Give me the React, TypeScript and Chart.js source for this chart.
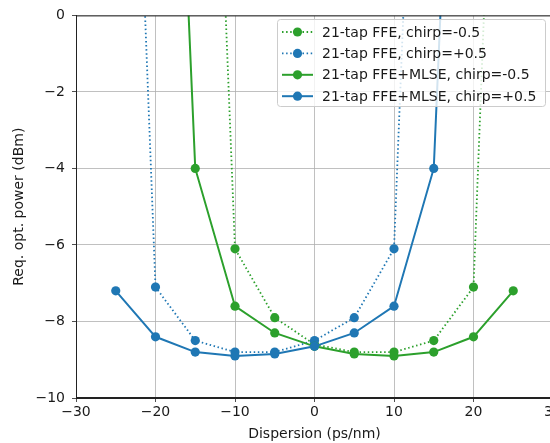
import React, { useEffect, useRef } from "react";
import { Chart, registerables } from "chart.js";

Chart.register(...registerables);

// Dispersion values (ps/nm) at which the required optical power was measured
const dispersion = [-25, -20, -15, -10, -5, 0, 5, 10, 15, 20, 25];

// Required optical power (dBm); 20 marks an unreachable (off-scale) point
const ffeChirpNeg = [null, null, 20, -6.1, -7.9, -8.6, -8.8, -8.8, -8.5, -7.1, 20];
const ffeChirpPos = [20, -7.1, -8.5, -8.8, -8.8, -8.5, -7.9, -6.1, 20, null, null];
const mlseChirpNeg = [null, 20, -4.0, -7.6, -8.3, -8.65, -8.85, -8.9, -8.8, -8.4, -7.2];
const mlseChirpPos = [-7.2, -8.4, -8.8, -8.9, -8.85, -8.65, -8.3, -7.6, -4.0, 20, null];

const seriesLabels = [
  "21-tap FFE, chirp=-0.5",
  "21-tap FFE, chirp=+0.5",
  "21-tap FFE+MLSE, chirp=-0.5",
  "21-tap FFE+MLSE, chirp=+0.5",
];

const xTicks = [-30, -20, -10, 0, 10, 20, 30];
const yTicks = [-10, -8, -6, -4, -2, 0];

const GREEN = "#2ca02c";
const BLUE = "#1f77b4";
const FONT = "'DejaVu Sans', sans-serif";
const TEXT = "#1a1a1a";
const DOTTED = [1.5, 2.6];

const toPoints = (vals: (number | null)[]) =>
  dispersion
    .map((x, i) => ({ x, y: vals[i] }))
    .filter((p) => p.y !== null) as { x: number; y: number }[];

const minus = (v: number) => (v < 0 ? "\u2212" + Math.abs(v) : String(v));

// Spines on all four sides of the plotting area
const framePlugin = {
  id: "frame",
  afterDraw(chart: any) {
    const { ctx, chartArea: a } = chart;
    ctx.save();
    ctx.strokeStyle = "#222";
    ctx.lineWidth = 1;
    ctx.strokeRect(a.left + 0.5, a.top + 0.5, a.right - a.left - 1, a.bottom - a.top - 1);
    ctx.restore();
  },
};

// Legend box with line + marker handles, drawn in the upper right of the plot
const legendPlugin = {
  id: "lineLegend",
  afterDraw(chart: any) {
    const { ctx } = chart;
    const boxX = 277;
    const boxY = 19;
    const boxW = 268;
    const boxH = 87;
    const rowH = 21.4;
    ctx.save();
    ctx.beginPath();
    ctx.roundRect(boxX + 0.5, boxY + 0.5, boxW, boxH, 3);
    ctx.fillStyle = "rgba(255,255,255,0.8)";
    ctx.fill();
    ctx.strokeStyle = "#cccccc";
    ctx.lineWidth = 1;
    ctx.stroke();
    chart.data.datasets.forEach((ds: any, i: number) => {
      const cy = boxY + 13 + i * rowH;
      ctx.beginPath();
      ctx.setLineDash(ds.borderDash || []);
      ctx.strokeStyle = ds.borderColor;
      ctx.lineWidth = ds.borderWidth;
      ctx.moveTo(282, cy);
      ctx.lineTo(313, cy);
      ctx.stroke();
      ctx.setLineDash([]);
      ctx.beginPath();
      ctx.arc(297.5, cy, 4.6, 0, Math.PI * 2);
      ctx.fillStyle = ds.pointBackgroundColor;
      ctx.fill();
      ctx.fillStyle = TEXT;
      ctx.font = `14px ${FONT}`;
      ctx.textBaseline = "middle";
      ctx.textAlign = "left";
      ctx.fillText(ds.label, 322, cy + 1);
    });
    ctx.restore();
  },
};

export default function App() {
  const canvasRef = useRef<HTMLCanvasElement | null>(null);

  useEffect(() => {
    if (!canvasRef.current) return;
    const mk = (i: number, vals: (number | null)[], color: string, dotted: boolean) => ({
      label: seriesLabels[i],
      data: toPoints(vals),
      borderColor: color,
      backgroundColor: color,
      pointBackgroundColor: color,
      pointBorderColor: color,
      pointBorderWidth: 0,
      pointRadius: 4.6,
      borderWidth: dotted ? 1.8 : 2,
      borderDash: dotted ? DOTTED : [],
      borderCapStyle: "butt" as const,
      tension: 0,
      order: 3 - i,
    });

    const chart = new Chart(canvasRef.current, {
      type: "line",
      data: {
        datasets: [
          mk(0, ffeChirpNeg, GREEN, true),
          mk(1, ffeChirpPos, BLUE, true),
          mk(2, mlseChirpNeg, GREEN, false),
          mk(3, mlseChirpPos, BLUE, false),
        ],
      },
      options: {
        animation: false,
        responsive: false,
        devicePixelRatio: 1,
        layout: { padding: { top: 13, right: 47, left: 0, bottom: 0 }, autoPadding: false },
        plugins: { legend: { display: false }, tooltip: { enabled: false } },
        scales: {
          x: {
            type: "linear",
            min: -30,
            max: 30,
            afterFit: (s: any) => {
              s.height = 45;
            },
            afterBuildTicks: (s: any) => {
              s.ticks = xTicks.map((v) => ({ value: v }));
            },
            ticks: {
              callback: (v: any) => minus(Number(v)),
              color: TEXT,
              font: { family: FONT, size: 14 },
              padding: 2,
              maxRotation: 0,
            },
            grid: { color: "#b0b0b0", lineWidth: 0.8, tickColor: "#222", tickLength: 4 },
            border: { display: true, color: "#222", width: 1 },
            title: {
              display: true,
              text: "Dispersion (ps/nm)",
              color: TEXT,
              font: { family: FONT, size: 14 },
              padding: { top: 0, bottom: 0 },
            },
          },
          y: {
            type: "linear",
            min: -10,
            max: 0,
            afterFit: (s: any) => {
              s.width = 76;
            },
            afterBuildTicks: (s: any) => {
              s.ticks = yTicks.map((v) => ({ value: v }));
            },
            ticks: {
              callback: (v: any) => minus(Number(v)),
              color: TEXT,
              font: { family: FONT, size: 14 },
              padding: 7,
            },
            grid: { color: "#b0b0b0", lineWidth: 0.8, tickColor: "#222", tickLength: 4 },
            border: { display: true, color: "#222", width: 1 },
            title: {
              display: true,
              text: "Req. opt. power (dBm)",
              color: TEXT,
              font: { family: FONT, size: 14 },
              padding: { top: 11, bottom: 0 },
            },
          },
        },
      },
      plugins: [framePlugin, legendPlugin],
    });
    return () => chart.destroy();
  }, []);

  return (
    <div
      style={{
        position: "fixed",
        left: 0,
        top: 0,
        width: 550,
        height: 443,
        overflow: "hidden",
        background: "#fff",
      }}
    >
      <canvas ref={canvasRef} width={600} height={443} style={{ display: "block" }} />
    </div>
  );
}
